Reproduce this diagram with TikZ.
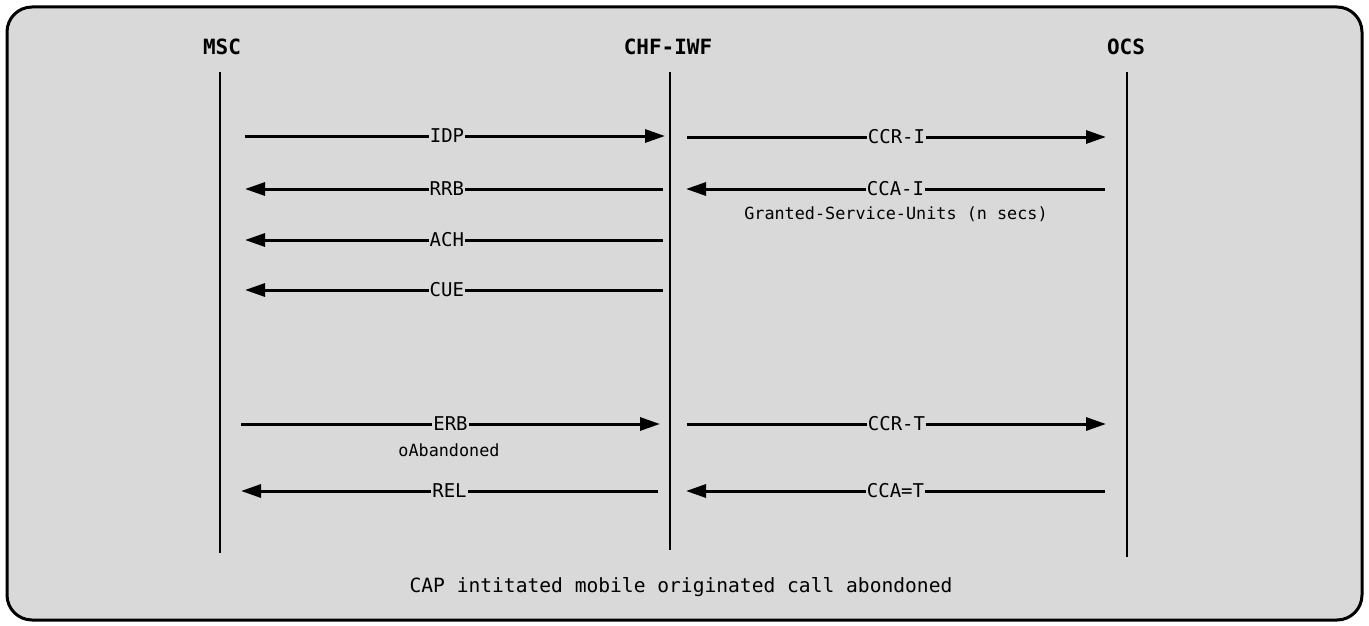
\documentclass[tikz,border=0pt]{standalone}
\usepackage{fontspec}
\setmonofont{DejaVu Sans Mono}
\usetikzlibrary{arrows.meta}
\definecolor{bg}{RGB}{217,217,217}
\tikzset{
  msg/.style={line width=3pt,-{Triangle[length=20pt,width=13pt]}},
  life/.style={line width=1.5pt},
  lbl/.style={fill=bg,inner sep=1pt,font=\ttfamily\fontsize{19}{21}\selectfont},
  head/.style={font=\ttfamily\bfseries\fontsize{21}{24}\selectfont},
  note/.style={font=\ttfamily\fontsize{16.8}{19}\selectfont},
}
\begin{document}
\begin{tikzpicture}[x=1pt,y=-1pt]
\useasboundingbox (0,0) rectangle (1369,626);
\draw[line width=3pt,fill=bg,rounded corners=25pt] (7,7) rectangle (1362,620);
% heads
\node[head] (msc) at (222,47) {MSC};
\node[head] (chf) at (668,47) {CHF-IWF};
\node[head] (ocs) at (1126,47) {OCS};
% lifelines
\coordinate (mscT) at (220,72); \coordinate (mscB) at (220,553);
\coordinate (chfT) at (670,72); \coordinate (chfB) at (670,550);
\coordinate (ocsT) at (1127,72); \coordinate (ocsB) at (1127,557);
\draw[life] (mscT) -- (mscB);
\draw[life] (chfT) -- (chfB);
\draw[life] (ocsT) -- (ocsB);
% messages
\coordinate (a1) at (245,136); \coordinate (b1) at (665,136);
\draw[msg] (a1) -- node[lbl,pos=0.481] (idp) {IDP} (b1);
\coordinate (a2) at (687,137); \coordinate (b2) at (1106,137);
\draw[msg] (a2) -- node[lbl] (ccri) {CCR-I} (b2);
\coordinate (a3) at (663,189); \coordinate (b3) at (245,189);
\draw[msg] (a3) -- node[lbl,pos=0.517] (rrb) {RRB} (b3);
\coordinate (a4) at (1105,189); \coordinate (b4) at (686,189);
\draw[msg] (a4) -- node[lbl] (ccai) {CCA-I} (b4);
\node[note] (gsu) at (896,214) {Granted-Service-Units (n secs)};
\coordinate (a5) at (663,240); \coordinate (b5) at (245,240);
\draw[msg] (a5) -- node[lbl,pos=0.517] (ach) {ACH} (b5);
\coordinate (a6) at (663,290); \coordinate (b6) at (245,290);
\draw[msg] (a6) -- node[lbl,pos=0.517] (cue) {CUE} (b6);
\coordinate (a7) at (241,424); \coordinate (b7) at (660,424);
\draw[msg] (a7) -- node[lbl] (erb) {ERB} (b7);
\node[note] (oab) at (449,450) {oAbandoned};
\coordinate (a8) at (687,424); \coordinate (b8) at (1106,424);
\draw[msg] (a8) -- node[lbl] (ccrt) {CCR-T} (b8);
\coordinate (a9) at (658,491); \coordinate (b9) at (241,491);
\draw[msg] (a9) -- node[lbl] (rel) {REL} (b9);
\coordinate (a10) at (1105,491); \coordinate (b10) at (686,491);
\draw[msg] (a10) -- node[lbl] (ccat) {CCA=T} (b10);
% caption
\node[font=\ttfamily\fontsize{19.6}{22}\selectfont] (cap) at (681,587) {CAP intitated mobile originated call abondoned};
\end{tikzpicture}
\end{document}
